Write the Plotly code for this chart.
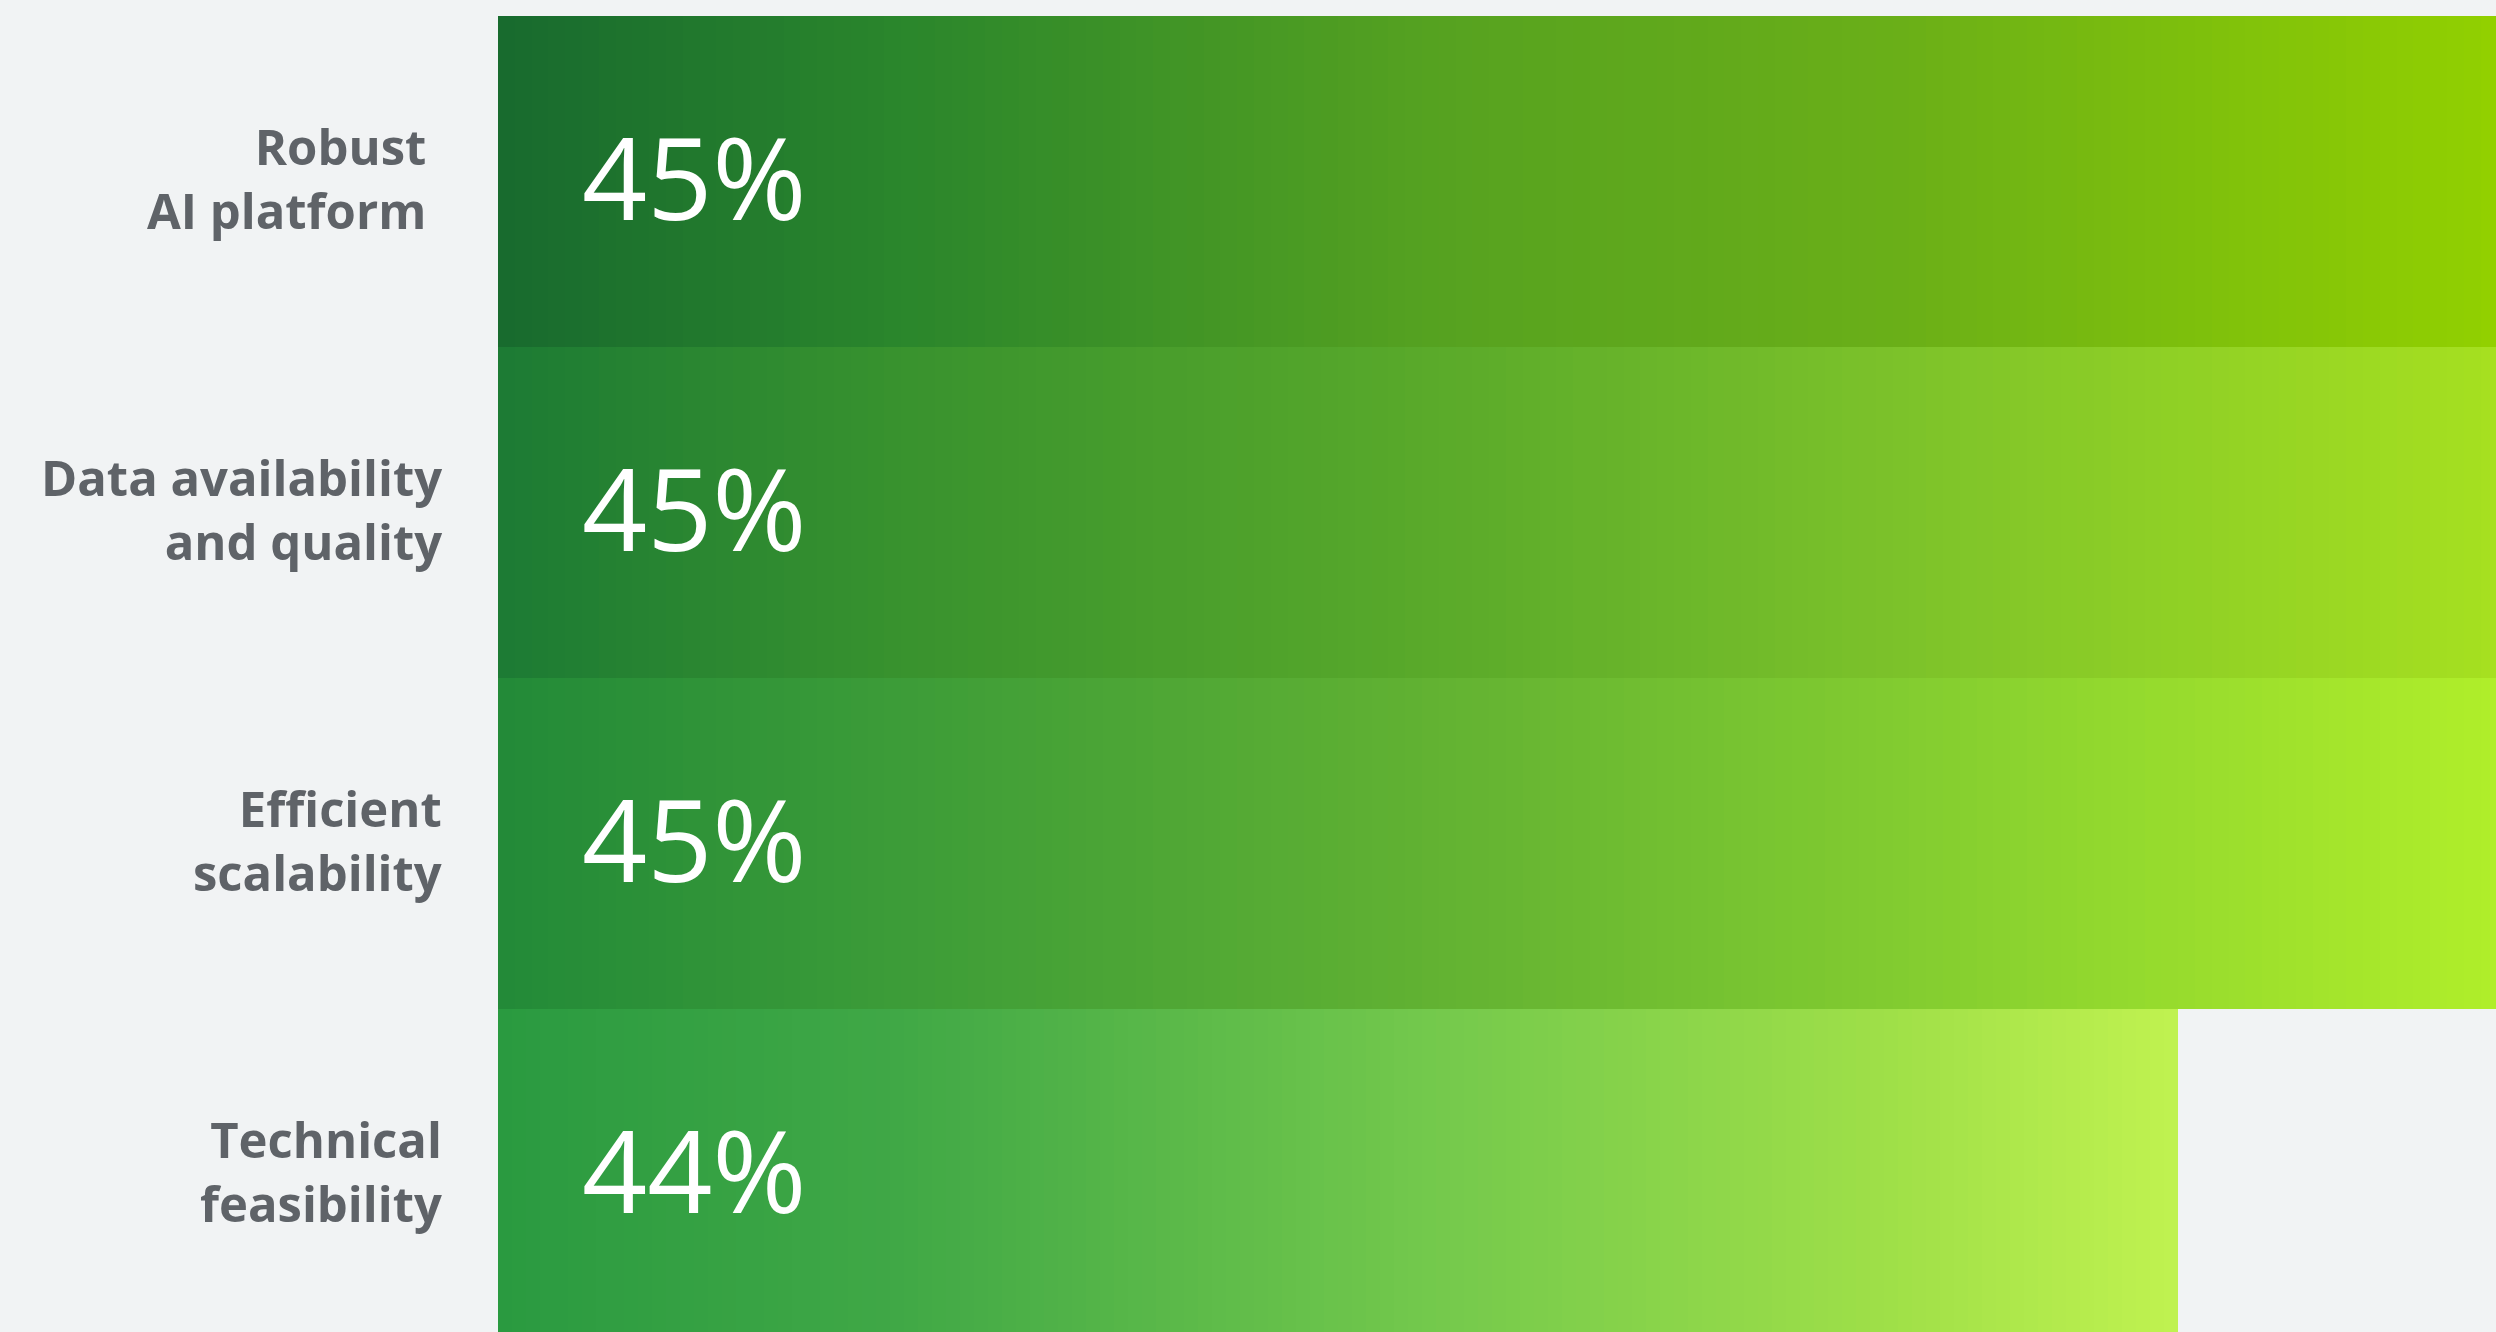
import plotly.graph_objects as go

# ---------------- data ----------------
label_line1 = ["Robust", "Data availability", "Efficient", "Technical"]
label_line2 = ["AI platform", "and quality", "scalability", "feasibility"]
categories = [a + " " + b for a, b in zip(label_line1, label_line2)]
values = [45, 45, 45, 44]
value_text = ["45%", "45%", "45%", "44%"]

# ---------------- style ----------------
AXIS_MIN = 39.0
AXIS_MAX = 44.946
N_SEG = 120
BG = "#f1f3f4"
LABEL_COLOR = "#5f6368"
label_xshift = [-70, -54, -54, -54]

# gradient stops per bar: (fraction of plot width, colour)
grad_stops = [
    [(0.0, "#186a2e"), (0.2, "#2a862c"), (0.47, "#56a220"), (0.70, "#6aaf18"), (1.0, "#92d000")],
    [(0.0, "#1c7a34"), (0.2, "#38922e"), (0.47, "#5aaa2a"), (0.70, "#7cc22a"), (1.0, "#a6e020")],
    [(0.0, "#228a38"), (0.2, "#3c9c38"), (0.47, "#62b232"), (0.70, "#82cc30"), (1.0, "#b0ee2a")],
    [(0.0, "#2a9a40"), (0.2, "#40a846"), (0.47, "#74c94c"), (0.70, "#a0e048"), (0.84, "#c0f250"), (1.0, "#c8f858")],
]


def hex2rgb(h):
    h = h.lstrip("#")
    return tuple(int(h[i:i + 2], 16) for i in (0, 2, 4))


def colour_at(stops, f):
    f = max(0.0, min(1.0, f))
    for (f0, c0), (f1, c1) in zip(stops[:-1], stops[1:]):
        if f0 <= f <= f1:
            t = 0 if f1 == f0 else (f - f0) / (f1 - f0)
            a, b = hex2rgb(c0), hex2rgb(c1)
            r = [round(a[i] + (b[i] - a[i]) * t) for i in range(3)]
            return "rgb(%d,%d,%d)" % tuple(r)
    return stops[-1][1]


fig = go.Figure()
span = AXIS_MAX - AXIS_MIN
for k in range(N_SEG):
    bases, widths, cols = [], [], []
    for i, v in enumerate(values):
        start = AXIS_MIN + (v - AXIS_MIN) * k / N_SEG
        bases.append(start)
        widths.append(v - start)
        mid = AXIS_MIN + (v - AXIS_MIN) * (k + 0.5) / N_SEG
        cols.append(colour_at(grad_stops[i], (mid - AXIS_MIN) / span))
    fig.add_trace(go.Bar(
        y=categories, x=widths, base=bases, orientation="h",
        marker=dict(color=cols, line=dict(width=0)),
        hoverinfo="skip", showlegend=False,
    ))

annotations = []
for i, cat in enumerate(categories):
    annotations.append(dict(
        x=AXIS_MIN, y=cat, xref="x", yref="y", text=value_text[i],
        showarrow=False, xanchor="left", yanchor="middle", xshift=82, yshift=6,
        font=dict(family="Open Sans", size=114, color="white", weight=500),
    ))
    annotations.append(dict(
        x=0, y=cat, xref="paper", yref="y",
        text=label_line1[i] + "<br>" + label_line2[i],
        showarrow=False, xanchor="right", yanchor="middle", align="right",
        xshift=label_xshift[i], yshift=4,
        font=dict(family="Open Sans", size=49, color=LABEL_COLOR, weight=700),
    ))

fig.update_layout(
    width=2496, height=1332,
    margin=dict(l=498, r=0, t=16, b=0, pad=0),
    paper_bgcolor=BG, plot_bgcolor=BG,
    barmode="overlay", bargap=0,
    xaxis=dict(range=[AXIS_MIN, AXIS_MAX], visible=False, fixedrange=True),
    yaxis=dict(type="category", categoryorder="array", categoryarray=categories,
               range=[-0.5 + 1316 / 331, -0.5], visible=False, fixedrange=True),
    annotations=annotations,
)

fig.write_html(
    "out.html",
    config={"displayModeBar": False},
    post_script="document.body.style.margin='0';document.body.style.overflow='hidden';",
)
